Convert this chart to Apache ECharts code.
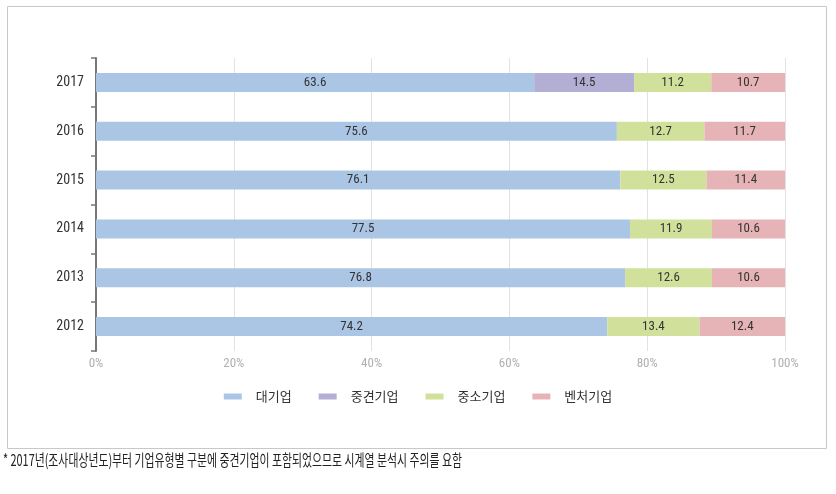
<!DOCTYPE html>
<html><head><meta charset="utf-8">
<script src="https://cdn.jsdelivr.net/npm/echarts@6/dist/echarts.min.js"></script>
<style>html,body{margin:0;padding:0;background:#fff;}#c{width:836px;height:494px;}</style>
</head><body><div id="c"></div>
<script>
const years = ['2012','2013','2014','2015','2016','2017'];
const large = [74.2, 76.8, 77.5, 76.1, 75.6, 63.6];
const midsize = [null, null, null, null, null, 14.5];
const small = [13.4, 12.6, 11.9, 12.5, 12.7, 11.2];
const venture = [12.4, 10.6, 10.6, 11.4, 11.7, 10.7];
const seriesNames = ['대기업','중견기업','중소기업','벤처기업'];
const colors = ['#abc6e5','#b3aed3','#d1e19c','#e6b4b6'];
const xTicks = [0,20,40,60,80,100];
const footnote = '* 2017년(조사대상년도)부터 기업유형별 구분에 중견기업이 포함되었으므로 시계열 분석시 주의를 요함';

const numFont = "'Roboto Condensed','DejaVu Sans Condensed','Liberation Sans Narrow',Roboto,sans-serif";
const chart = echarts.init(document.getElementById('c'), null, {renderer:'canvas'});
const datasets = [large, midsize, small, venture];
chart.setOption({
  animation:false,
  color: colors,
  grid:{left:96, right:51, top:58, bottom:143},
  legend:{
    top:385, left:'center', itemWidth:18, itemHeight:6, itemGap:27,
    icon:'rect',
    textStyle:{color:'#333', fontSize:13, fontFamily:"'Noto Sans CJK KR',sans-serif", padding:[0,0,0,9]},
    data: seriesNames
  },
  xAxis:{
    type:'value', min:0, max:100, interval:20,
    axisLine:{show:false}, axisTick:{show:false},
    splitLine:{show:true, lineStyle:{color:'#e2e2e2', width:1}},
    axisLabel:{color:'#b0b0b0', fontSize:13, fontFamily:numFont, margin:6,
      formatter: v => xTicks.includes(v) ? v + '%' : ''}
  },
  yAxis:{
    type:'category', data: years,
    axisLine:{show:true, lineStyle:{color:'#777', width:2}},
    axisTick:{show:true, length:5, lineStyle:{color:'#777', width:1.5}},
    axisLabel:{color:'#333', fontSize:14, fontFamily:numFont, margin:12}
  },
  series: seriesNames.map((n,i)=>({
    name:n, type:'bar', stack:'total', barWidth:19,
    data: datasets[i],
    label:{show:true, position:'inside', color:'#333', fontSize:13, fontFamily:numFont,
      formatter: p => (p.value==null ? '' : Number(p.value).toFixed(1))}
  })),
  graphic:[
    {type:'rect', left:5, top:4, shape:{width:819, height:442}, style:{fill:'none', stroke:'#c8c8c8', lineWidth:1}, silent:true, z:-1},
    {type:'text', left:3, top:452, scaleX:0.68, style:{text:footnote, fill:'#222', fontSize:16, fontFamily:"'Noto Sans CJK KR',sans-serif"}}
  ]
});
</script></body></html>
